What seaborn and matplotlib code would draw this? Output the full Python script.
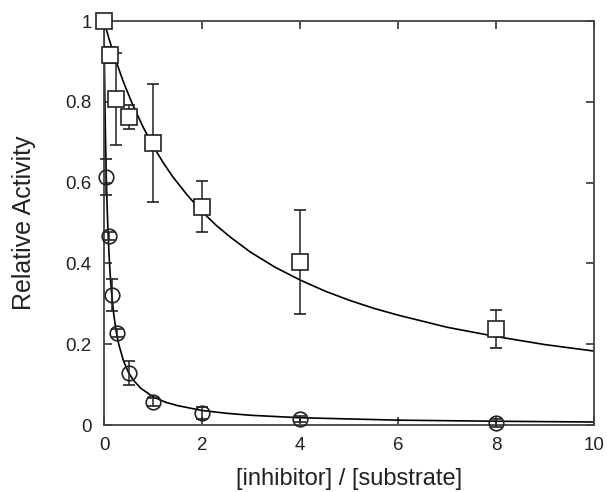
import numpy as np
import pandas as pd
import seaborn as sns
import matplotlib
matplotlib.use('Agg')
import matplotlib.pyplot as plt

# measured points (square series)
sq_x = [0, 0.125, 0.25, 0.5, 1, 2, 4, 8]
sq_y = [1.0, 0.916, 0.807, 0.762, 0.698, 0.540, 0.403, 0.238]
sq_err = [0.0, 0.02, 0.115, 0.03, 0.145, 0.063, 0.129, 0.047]

# measured points (circle series)
ci_x = [0.05, 0.1, 0.16, 0.26, 0.51, 1, 2, 4, 8]
ci_y = [0.614, 0.468, 0.322, 0.228, 0.129, 0.057, 0.030, 0.015, 0.005]
ci_err = [0.045, 0.01, 0.04, 0.01, 0.03, 0.01, 0.015, 0.008, 0.01]

# fitted curves
fit_sq_x = [0, 0.05, 0.1, 0.2, 0.3, 0.4, 0.5, 0.6, 0.8, 1, 1.2, 1.4, 1.7, 2, 2.3,
            2.6, 3, 3.5, 4, 4.5, 5, 5.5, 6, 7, 8, 9, 10]
fit_sq_y = [1.0, 0.978, 0.957, 0.918, 0.882, 0.848, 0.818, 0.789, 0.737, 0.691,
            0.651, 0.615, 0.569, 0.528, 0.493, 0.463, 0.427, 0.390, 0.359, 0.332,
            0.309, 0.289, 0.272, 0.242, 0.219, 0.199, 0.183]
fit_ci_x = [0, 0.005, 0.01, 0.02, 0.03, 0.04, 0.05, 0.065, 0.08, 0.1, 0.125, 0.15,
            0.2, 0.25, 0.3, 0.4, 0.5, 0.6, 0.75, 1, 1.25, 1.5, 2, 2.5, 3, 4, 5, 6,
            8, 10]
fit_ci_y = [1.0, 0.9375, 0.882, 0.789, 0.714, 0.652, 0.600, 0.536, 0.484, 0.429,
            0.375, 0.333, 0.273, 0.231, 0.200, 0.158, 0.130, 0.111, 0.091, 0.070,
            0.0566, 0.048, 0.036, 0.029, 0.024, 0.018, 0.015, 0.012, 0.0093, 0.0074]

sns.set_style('ticks')
plt.rcParams['font.family'] = ['Liberation Sans', 'DejaVu Sans']

fig = plt.figure(figsize=(6.07, 4.92), dpi=100)
ax = fig.add_axes([104 / 607, 67 / 492, 490 / 607, 404 / 492])

fit_sq = pd.DataFrame({'x': fit_sq_x, 'y': fit_sq_y})
fit_ci = pd.DataFrame({'x': fit_ci_x, 'y': fit_ci_y})
sns.lineplot(data=fit_sq, x='x', y='y', color='black', lw=1.2, ax=ax)
sns.lineplot(data=fit_ci, x='x', y='y', color='black', lw=1.2, ax=ax)

ax.errorbar(sq_x, sq_y, yerr=sq_err, fmt='s', ms=11, mfc='white', mec='#222222',
            mew=1.2, ecolor='#222222', elinewidth=1.1, capsize=4, capthick=1.1,
            clip_on=False, zorder=3)
ax.errorbar(ci_x, ci_y, yerr=ci_err, fmt='o', ms=10.5, mfc='none', mec='#222222',
            mew=1.2, ecolor='#222222', elinewidth=1.1, capsize=4, capthick=1.1,
            clip_on=False, zorder=3)

ax.set_xlim(0, 10)
ax.set_ylim(0, 1)
ax.set_xticks([0, 2, 4, 6, 8, 10])
ax.set_xticklabels(['0', '2', '4', '6', '8', '10'])
ax.set_yticks([0, 0.2, 0.4, 0.6, 0.8, 1])
ax.set_yticklabels(['0', '0.2', '0.4', '0.6', '0.8', '1'])
ax.tick_params(direction='in', length=6, width=1.1, top=True, right=True,
               labelsize=13.5, pad=9, colors='#222222')
for s in ax.spines.values():
    s.set_visible(True)
    s.set_linewidth(1.3)
    s.set_color('#444444')

ax.set_xlabel('[inhibitor] / [substrate]', fontsize=17, color='#222222', labelpad=10)
ax.set_ylabel('Relative Activity', fontsize=18, color='#222222', labelpad=21)

fig.savefig('out.png', dpi=100, facecolor='white')
